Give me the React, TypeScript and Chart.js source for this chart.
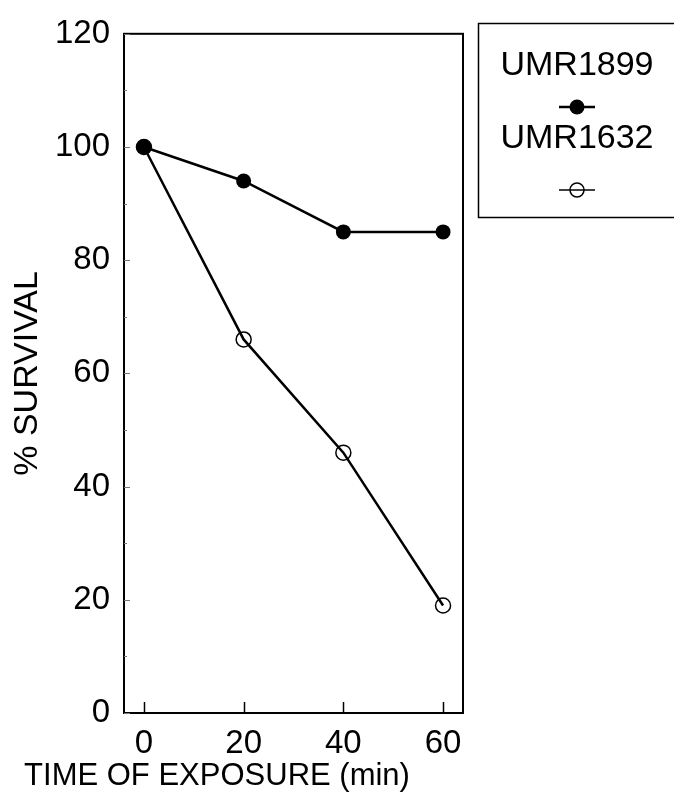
import React, { useEffect, useRef } from "react";
import { Chart, registerables } from "chart.js";
Chart.register(...registerables);

const times = [0, 20, 40, 60];
const umr1899 = [100, 94, 85, 85];
const umr1632 = [100, 66, 46, 19];
const xTickValues = [0, 20, 40, 60];
const yMinorStep = 10;
const seriesNames = ["UMR1899", "UMR1632"];
const xTitle = "TIME OF EXPOSURE (min)";
const yTitle = "% SURVIVAL";

const FONT = '"Liberation Sans", Arial, Helvetica, sans-serif';

const framePlugin = {
  id: "frame",
  afterDraw(chart: any) {
    const ctx = chart.ctx as CanvasRenderingContext2D;
    const { left, right, top, bottom } = chart.chartArea;
    const xs = chart.scales.x;
    const ys = chart.scales.y;
    ctx.save();
    ctx.strokeStyle = "#000";
    ctx.lineWidth = 2;
    ctx.strokeRect(left, top, right - left, bottom - top);
    ctx.lineWidth = 1.5;
    for (const v of xTickValues) {
      const px = Math.round(xs.getPixelForValue(v)) + 0.5;
      ctx.beginPath();
      ctx.moveTo(px, bottom);
      ctx.lineTo(px, bottom - 11);
      ctx.stroke();
    }
    ctx.strokeStyle = "#777";
    ctx.lineWidth = 1;
    for (let v = 0; v <= 120; v += yMinorStep) {
      const py = Math.round(ys.getPixelForValue(v)) + 0.5;
      const len = v % 20 === 0 ? 6 : 3;
      ctx.beginPath();
      ctx.moveTo(left, py);
      ctx.lineTo(left + len, py);
      ctx.stroke();
    }
    ctx.fillStyle = "#000";
    ctx.font = `31px ${FONT}`;
    ctx.textAlign = "center";
    ctx.textBaseline = "middle";
    ctx.fillText(xTitle, 217, 776);
    ctx.save();
    ctx.translate(28, (top + bottom) / 2);
    ctx.rotate(-Math.PI / 2);
    ctx.font = `34px ${FONT}`;
    ctx.fillText(yTitle, 0, 0);
    ctx.restore();
    ctx.strokeStyle = "#000";
    ctx.lineWidth = 1.5;
    ctx.strokeRect(478.5, 23.5, 200, 194);
    const cx = 577;
    ctx.font = `34px ${FONT}`;
    ctx.fillStyle = "#000";
    const rows = [
      { textY: 66, markY: 107, filled: true },
      { textY: 139, markY: 190, filled: false },
    ];
    rows.forEach((r, i) => {
      const ds = chart.data.datasets[i];
      ctx.fillText(String(ds.label ?? seriesNames[i]), cx, r.textY);
      ctx.beginPath();
      ctx.lineWidth = r.filled ? 2.5 : 1.5;
      ctx.moveTo(cx - 18, r.markY);
      ctx.lineTo(cx + 18, r.markY);
      ctx.stroke();
      ctx.beginPath();
      ctx.arc(cx, r.markY, r.filled ? 7.5 : 7, 0, Math.PI * 2);
      if (r.filled) {
        ctx.fill();
      } else {
        ctx.lineWidth = 1.5;
        ctx.stroke();
      }
    });
    ctx.restore();
  },
};

export default function App() {
  const ref = useRef<HTMLCanvasElement | null>(null);
  useEffect(() => {
    if (!ref.current) return;
    const chart = new Chart(ref.current, {
      type: "line",
      data: {
        datasets: [
          {
            label: seriesNames[0],
            data: times.map((t, i) => ({ x: t, y: umr1899[i] })),
            borderColor: "#000",
            borderWidth: 2.5,
            pointRadius: 7.5,
            pointBackgroundColor: "#000",
            pointBorderColor: "#000",
            pointBorderWidth: 0,
          },
          {
            label: seriesNames[1],
            data: times.map((t, i) => ({ x: t, y: umr1632[i] })),
            borderColor: "#000",
            borderWidth: 2.5,
            pointRadius: 7.5,
            pointBackgroundColor: "rgba(0,0,0,0)",
            pointBorderColor: "#000",
            pointBorderWidth: 1.5,
          },
        ],
      },
      options: {
        responsive: false,
        animation: false,
        layout: { padding: { left: 0, top: 24, right: 211, bottom: 0 } },
        plugins: { legend: { display: false }, tooltip: { enabled: false } },
        scales: {
          x: {
            type: "linear",
            min: -4,
            max: 64,
            afterBuildTicks: (s: any) => {
              s.ticks = xTickValues.map((v) => ({ value: v }));
            },
            afterFit: (s: any) => {
              s.height = 86;
            },
            grid: { display: false, drawTicks: false },
            border: { display: false },
            ticks: {
              color: "#000",
              font: { family: FONT, size: 33 },
              padding: 11,
              maxRotation: 0,
              autoSkip: false,
            },
          },
          y: {
            type: "linear",
            min: 0,
            max: 120,
            afterFit: (s: any) => {
              s.width = 124;
            },
            grid: { display: false, drawTicks: false },
            border: { display: false },
            ticks: {
              stepSize: yMinorStep,
              color: "#000",
              font: { family: FONT, size: 33 },
              padding: 14,
              autoSkip: false,
              callback: (v: any) => (Number(v) % 20 === 0 ? String(v) : ""),
            },
          },
        },
      },
      plugins: [framePlugin],
    });
    return () => chart.destroy();
  }, []);
  return (
    <div style={{ position: "absolute", left: 0, top: 0, width: 674, height: 799, background: "#fff" }}>
      <canvas ref={ref} width={674} height={799} />
    </div>
  );
}
